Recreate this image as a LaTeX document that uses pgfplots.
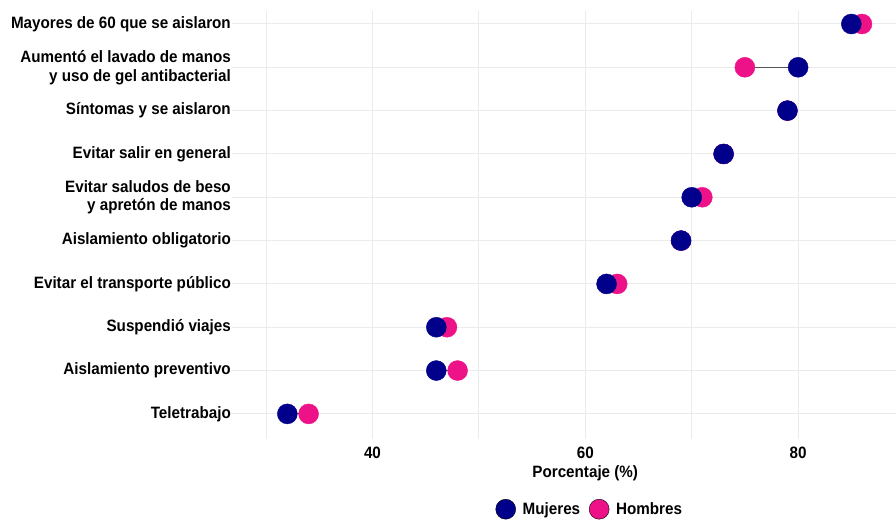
\documentclass[border=0pt]{standalone}
\usepackage{fontspec}
\setmainfont{Liberation Sans}[FakeStretch=0.925]
\usepackage{pgfplots}
\pgfplotsset{compat=1.18}
\definecolor{muj}{RGB}{0,0,139}
\definecolor{hom}{RGB}{238,18,137}
\definecolor{gridc}{RGB}{235,235,235}
\definecolor{segc}{RGB}{85,85,85}
\newcommand{\lf}{\fontsize{16.5}{19}\selectfont\bfseries}
\begin{document}
\begin{tikzpicture}
\begin{axis}[
  name=ax,
  scale only axis,
  width=664bp, height=428bp,
  xmin=26.8, xmax=89.2,
  ymin=0.42, ymax=10.3,
  axis line style={draw=none},
  tick style={draw=none},
  xtick={40,60,80},
  minor xtick={30,50,70},
  ytick={1,...,10},
  yticklabels={Teletrabajo,Aislamiento preventivo,Suspendió viajes,Evitar el transporte público,Aislamiento obligatorio,{Evitar saludos de beso\\y apretón de manos},Evitar salir en general,Síntomas y se aislaron,{Aumentó el lavado de manos\\y uso de gel antibacterial},Mayores de 60 que se aislaron},
  xmajorgrids, xminorgrids, ymajorgrids,
  major grid style={draw=gridc, line width=1bp},
  minor grid style={draw=gridc, line width=1bp},
  /pgf/number format/assume math mode=true,
  ticklabel style={font=\lf},
  yticklabel style={align=right, inner xsep=1bp},
  xticklabel style={inner ysep=0bp, yshift=-8bp},
  xlabel={Porcentaje (\%)},
  xlabel style={at={(axis description cs:0.532,-0.080)}, anchor=center, font=\lf},
  legend style={at={(axis description cs:0.539,-0.164)}, anchor=center, draw=none, fill=none,
    legend columns=2, font=\lf,
    /tikz/every even column/.append style={column sep=7bp},
    /tikz/every odd column/.append style={column sep=5bp},
    legend cell align=left},
  legend image code/.code={\draw[#1] plot coordinates {(0bp,0bp)};},
  clip=false,
]
\addplot[segc, line width=0.8bp, unbounded coords=jump, forget plot] coordinates {
(85,10) (86,10) (nan,nan)
(80,9) (75,9) (nan,nan)
(79,8) (79,8) (nan,nan)
(73,7) (73,7) (nan,nan)
(70,6) (71,6) (nan,nan)
(69,5) (69,5) (nan,nan)
(62,4) (63,4) (nan,nan)
(46,3) (47,3) (nan,nan)
(46,2) (48,2) (nan,nan)
(32,1) (34,1)
};
\addplot[only marks, mark=*, mark size=10bp, hom, mark options={draw=none, fill=hom}, forget plot] coordinates {
(86,10) (75,9) (79,8) (73,7) (71,6) (69,5) (63,4) (47,3) (48,2) (34,1)
};
\addplot[only marks, mark=*, mark size=10bp, muj, mark options={draw=none, fill=muj}, forget plot] coordinates {
(85,10) (80,9) (79,8) (73,7) (70,6) (69,5) (62,4) (46,3) (46,2) (32,1)
};
\addlegendimage{only marks, mark=*, mark size=10bp, mark options={draw=none, fill=muj}}
\addlegendentry{Mujeres}
\addlegendimage{only marks, mark=*, mark size=10bp, mark options={draw=none, fill=hom}}
\addlegendentry{Hombres}
\end{axis}
\pgfresetboundingbox
\path (ax.south west) ++(-232bp,-80bp) coordinate (bl);
\path (ax.north east) ++(0bp,11bp) coordinate (tr);
\useasboundingbox (bl) rectangle (tr);
\end{tikzpicture}
\end{document}
